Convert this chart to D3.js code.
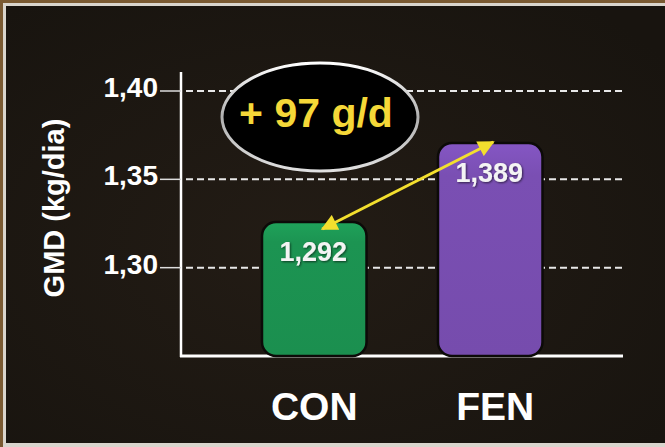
<!DOCTYPE html>
<html><head><meta charset="utf-8">
<script src="https://cdn.jsdelivr.net/npm/d3@7"></script>
<style>html,body{margin:0;padding:0;background:#1c1813;}svg{display:block;}</style>
</head><body>
<script>
const categories = ["CON", "FEN"];
const values = [1.292, 1.389];
const valueLabels = ["1,292", "1,389"];
const tickValues = [1.30, 1.35, 1.40];
const tickLabels = ["1,30", "1,35", "1,40"];
const axisTitle = "GMD (kg/dia)";
const badgeText = "+ 97 g/d";
const barColors = ["#1c9452", "#7a4fb3"];

const W = 665, H = 447;
const svg = d3.select("body").append("svg").attr("width", W).attr("height", H);
const defs = svg.append("defs");

// background + frame
const bg = defs.append("radialGradient").attr("id","bg").attr("cx","45%").attr("cy","55%").attr("r","70%");
bg.append("stop").attr("offset","0%").attr("stop-color","#231c15");
bg.append("stop").attr("offset","100%").attr("stop-color","#18140f");
svg.append("rect").attr("width",W).attr("height",H).attr("fill","#7a5a32");
svg.append("rect").attr("x",3).attr("y",3).attr("width",W-3).attr("height",H-3).attr("fill","#d9d5cd");
svg.append("rect").attr("x",6).attr("y",6).attr("width",W-6).attr("height",437).attr("fill","url(#bg)");

const font = "'Liberation Sans', Arial, sans-serif";

// scales
const y = d3.scaleLinear().domain([1.25, 1.40]).range([356, 91]);
const yBar = d3.scaleLinear().domain([1.1275, 1.389]).range([356, 143]);
const x = d3.scaleBand().domain(categories).range([174, 630.5]).paddingInner(0.406).paddingOuter(0.5);

// grid lines
svg.append("g").selectAll("line").data(tickValues).join("line")
  .attr("x1", 186).attr("x2", 622)
  .attr("y1", d => y(d)).attr("y2", d => y(d))
  .attr("stroke", "#e8e8e8").attr("stroke-width", 2).attr("stroke-dasharray", "7,4");

// axis lines
svg.append("line").attr("x1",181).attr("x2",181).attr("y1",72).attr("y2",y(1.25)+1)
  .attr("stroke","#fff").attr("stroke-width",2.5);
svg.append("line").attr("x1",180).attr("x2",623).attr("y1",y(1.25)).attr("y2",y(1.25))
  .attr("stroke","#fff").attr("stroke-width",3);

// ticks + labels
const tg = svg.append("g");
tg.selectAll("line").data(tickValues).join("line")
  .attr("x1",160).attr("x2",181).attr("y1",d=>y(d)).attr("y2",d=>y(d))
  .attr("stroke","#ddd").attr("stroke-width",1.5);
tg.selectAll("text").data(tickValues).join("text")
  .attr("x",158).attr("y",d=>y(d)+6).attr("text-anchor","end")
  .attr("font-family",font).attr("font-weight","bold").attr("font-size",28)
  .attr("fill","#fff").text((d,i)=>tickLabels[i]);

// axis title
svg.append("text").attr("transform","translate(64,208) rotate(-90)")
  .attr("text-anchor","middle").attr("font-family",font).attr("font-weight","bold")
  .attr("font-size",29).attr("fill","#fff").text(axisTitle);

// bars
barColors.forEach((c,i)=>{
  const g = defs.append("linearGradient").attr("id","bar"+i).attr("x1",0).attr("x2",0).attr("y1",0).attr("y2",1);
  g.append("stop").attr("offset","0%").attr("stop-color", d3.color(c).brighter(0.25));
  g.append("stop").attr("offset","15%").attr("stop-color", c);
  g.append("stop").attr("offset","100%").attr("stop-color", d3.color(c).darker(0.1));
});
const bars = svg.append("g");
bars.selectAll("rect").data(values).join("rect")
  .attr("x",(d,i)=>x(categories[i])).attr("width",x.bandwidth())
  .attr("y",d=>yBar(d)).attr("height",d=>yBar.range()[0]-yBar(d))
  .attr("rx",14).attr("ry",14)
  .attr("fill",(d,i)=>`url(#bar${i})`).attr("stroke","#0c0a08").attr("stroke-width",2.5);

// value labels
const filt = defs.append("filter").attr("id","sh").attr("x","-20%").attr("y","-20%").attr("width","140%").attr("height","140%");
filt.append("feDropShadow").attr("dx",1).attr("dy",1).attr("stdDeviation",1).attr("flood-color","#000").attr("flood-opacity",0.6);
bars.selectAll("text").data(values).join("text")
  .attr("x",(d,i)=>x(categories[i])+x.bandwidth()/2-1).attr("y",d=>yBar(d)+39)
  .attr("text-anchor","middle").attr("font-family",font).attr("font-weight","bold")
  .attr("font-size",27).attr("fill","#f4f4f4").attr("filter","url(#sh)")
  .text((d,i)=>valueLabels[i]);

// category labels
svg.append("g").selectAll("text").data(categories).join("text")
  .attr("x",(d,i)=>x(d)+x.bandwidth()/2 + (i===1?5:0)).attr("y",420)
  .attr("text-anchor","middle").attr("font-family",font).attr("font-weight","bold")
  .attr("font-size",39).attr("fill","#fff").text(d=>d);

// arrow (double-headed)
const mk = defs.append("marker").attr("id","ah").attr("viewBox","0 0 10 10").attr("refX",9).attr("refY",5)
  .attr("markerWidth",6).attr("markerHeight",5.5).attr("markerUnits","strokeWidth").attr("orient","auto-start-reverse");
mk.append("path").attr("d","M0,0 L10,5 L0,10 z").attr("fill","#f3df2e");
const x0 = x(categories[0])+x.bandwidth()/2+8, y0 = yBar(values[0])+7;
const x1 = x(categories[1])+x.bandwidth()/2+3, y1 = yBar(values[1])-1;
svg.append("line").attr("x1",x0).attr("y1",y0).attr("x2",x1).attr("y2",y1)
  .attr("stroke","#f3df2e").attr("stroke-width",3)
  .attr("marker-start","url(#ah)").attr("marker-end","url(#ah)");

// badge ellipse
const eg = defs.append("linearGradient").attr("id","eg").attr("x1",0).attr("x2",0).attr("y1",0).attr("y2",1);
eg.append("stop").attr("offset","0%").attr("stop-color","#ffffff");
eg.append("stop").attr("offset","50%").attr("stop-color","#b0b0b0");
eg.append("stop").attr("offset","100%").attr("stop-color","#e0e0e0");
svg.append("ellipse").attr("cx",320).attr("cy",117).attr("rx",98).attr("ry",54)
  .attr("fill","#000").attr("stroke","url(#eg)").attr("stroke-width",3);
svg.append("text").attr("x",316).attr("y",127).attr("text-anchor","middle")
  .attr("font-family",font).attr("font-weight","bold").attr("font-size",41)
  .attr("fill","#f5d838").text(badgeText);
</script>
</body></html>
